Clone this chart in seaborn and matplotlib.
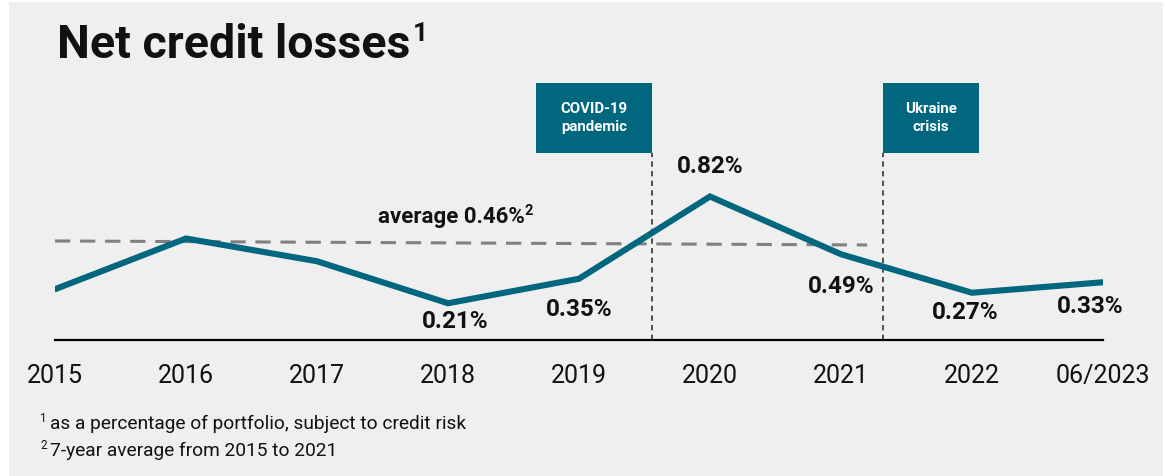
import matplotlib
matplotlib.use("Agg")
import matplotlib.pyplot as plt
from matplotlib.patches import Rectangle
import seaborn as sns
import pandas as pd

# ---- data ----
periods = ["2015", "2016", "2017", "2018", "2019", "2020", "2021", "2022", "06/2023"]
losses = [0.29, 0.58, 0.45, 0.21, 0.35, 0.82, 0.49, 0.27, 0.33]
labelled = ["", "", "", "0.21%", "0.35%", "0.82%", "0.49%", "0.27%", "0.33%"]
average_text = "average 0.46%"
average_sup = "2"
average_line = [0.566, 0.543]          # drawn level at start / end of the dashed line
average_span = [0, 6.2]
events = ["COVID-19\npandemic", "Ukraine\ncrisis"]
event_x = [4.56, 6.32]
title = "Net credit losses"
title_sup = "1"
footnotes = ["as a percentage of portfolio, subject to credit risk",
             "7-year average from 2015 to 2021"]
footnote_marks = ["1", "2"]

TEAL = "#00677F"
BG = "#EFEFEF"
INK = "#111111"

sns.set_theme(style="white")
plt.rcParams["font.family"] = ["Roboto", "DejaVu Sans"]

W, H = 1165, 476
fig = plt.figure(figsize=(W / 100, H / 100), dpi=100, facecolor="white")
fig.patches.append(Rectangle((9 / W, 0), (1163 - 9) / W, (H - 2) / H,
                             transform=fig.transFigure, facecolor=BG,
                             edgecolor="none", zorder=-10))
renderer = fig.canvas.get_renderer()


def text_with_sup(x_px, y_px, main, sup, size, sup_size, rise_px, weight, va="baseline", gap=1):
    t = fig.text(x_px / W, (H - y_px) / H, main, fontsize=size, fontweight=weight,
                 color=INK, ha="left", va=va)
    bb = t.get_window_extent(renderer=renderer)
    fig.text((bb.x1 + gap) / W, (H - y_px + rise_px) / H, sup, fontsize=sup_size,
             fontweight=weight, color=INK, ha="left", va=va)


# axes: x index 0..8 -> px 55..1103 ; y 0 -> px 340, 175 px per unit
ax = fig.add_axes([55 / W, (H - 340) / H, (1103 - 55) / W, 280 / H])
ax.set_facecolor("none")

df = pd.DataFrame({"x": range(len(periods)), "y": losses})
sns.lineplot(data=df, x="x", y="y", ax=ax, color=TEAL, linewidth=4.4,
             solid_joinstyle="miter", zorder=5)

ax.set_xlim(0, 8)
ax.set_ylim(0, 1.6)
ax.set_xticks(range(len(periods)))
ax.set_xticklabels(periods)
ax.tick_params(axis="x", length=0, pad=17, labelsize=18, colors=INK)
ax.set_yticks([])
ax.set_xlabel("")
ax.set_ylabel("")
for s in ["top", "left", "right"]:
    ax.spines[s].set_visible(False)
ax.spines["bottom"].set_color("black")
ax.spines["bottom"].set_linewidth(1.6)

# average dashed line
ax.plot(average_span, average_line, color="#808080", linewidth=2.2,
        dashes=(5, 3.2), zorder=3)
text_with_sup(378, 223, average_text, average_sup, 16, 10.5, 8, "bold", gap=0)

# value labels (pixel offsets from their points)
offsets = {3: (7, -18), 4: (0, -31), 5: (0, 30), 6: (0, -32), 7: (-7, -20), 8: (-13, -24)}
for i, lab in enumerate(labelled):
    if not lab:
        continue
    dx, dy = offsets[i]
    ax.annotate(lab, (i, losses[i]), xytext=(dx, dy), textcoords="offset pixels",
                ha="center", va="center", fontsize=17.5, fontweight="bold",
                color=INK, zorder=6)

# event flags
box_bottom, box_top = 1.069, 1.469
widths = [0.89, 0.73]
for k, (name, xe) in enumerate(zip(events, event_x)):
    ax.plot([xe, xe], [0, box_bottom], color="#222222", linewidth=1.1,
            dashes=(3.5, 2.8), zorder=2, clip_on=False)
    w = widths[k]
    x0 = xe - w if k == 0 else xe
    ax.add_patch(Rectangle((x0, box_bottom), w, box_top - box_bottom,
                           facecolor=TEAL, edgecolor="none", zorder=4, clip_on=False))
    ax.text(x0 + w / 2, (box_bottom + box_top) / 2, name, ha="center", va="center",
            color="white", fontsize=10.8, fontweight="bold", linespacing=1.35,
            zorder=5)

# title and footnotes
text_with_sup(57, 58, title, title_sup, 33.5, 19, 17, "bold", gap=2)
for j, (mark, note) in enumerate(zip(footnote_marks, footnotes)):
    y = 429 + 27 * j
    fig.text(40 / W, (H - y) / H + 7 / H, mark, fontsize=8.5, color=INK,
             ha="left", va="baseline")
    fig.text(50 / W, (H - y) / H, note, fontsize=13.8, color=INK,
             ha="left", va="baseline")

fig.savefig("out.png", dpi=100, facecolor=fig.get_facecolor())
